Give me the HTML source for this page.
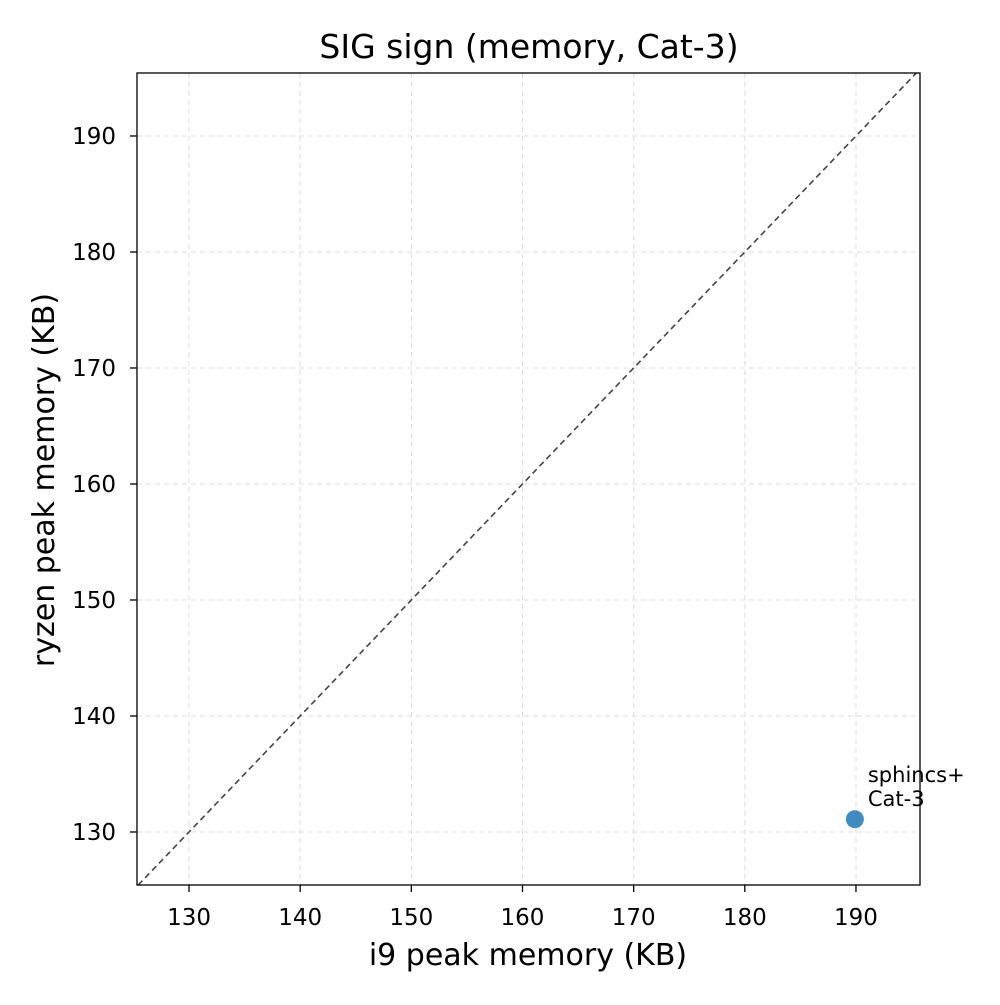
<!DOCTYPE html>
<html><head><meta charset="utf-8"><style>
body{margin:0;background:#fff;}
svg text{font-family:"DejaVu Sans","Liberation Sans",sans-serif;}
</style></head><body>
<svg id="chart" width="1000" height="1000" xmlns="http://www.w3.org/2000/svg">
<rect width="1000" height="1000" fill="#fff"/>
<g id="grid"></g>
<g id="plot"></g>
<rect x="137" y="73" width="783" height="812" fill="none" stroke="#000" stroke-width="1.3"/>
<g id="ticks"></g>
<text x="529" y="58" font-size="33" text-anchor="middle">SIG sign (memory, Cat-3)</text>
<text x="528" y="965" font-size="30" text-anchor="middle">i9 peak memory (KB)</text>
<text transform="translate(54,480) rotate(-90)" font-size="30" text-anchor="middle">ryzen peak memory (KB)</text>
</svg>
<script>
const xTicks=[130,140,150,160,170,180,190];
const yTicks=[130,140,150,160,170,180,190];
const pointsX=[189.9];
const pointsY=[131.1];
const labels=["sphincs+","Cat-3"];
const xDom=[125.32,195.76], yDom=[125.43,195.43];
const L=137,R=920,T=73,B=885;
function sx(v){return L+(v-xDom[0])/(xDom[1]-xDom[0])*(R-L);}
function sy(v){return B-(v-yDom[0])/(yDom[1]-yDom[0])*(B-T);}
const NS="http://www.w3.org/2000/svg";
function mk(tag,attrs,parent){const e=document.createElementNS(NS,tag);for(const k in attrs)e.setAttribute(k,attrs[k]);parent.appendChild(e);return e;}
const grid=document.getElementById('grid'),ticks=document.getElementById('ticks'),plot=document.getElementById('plot');
xTicks.forEach(v=>{
  const x=sx(v);
  const g=mk('line',{x1:x,x2:x,y1:T,y2:B,stroke:'#ddd','stroke-dasharray':'5,4','stroke-width':1},grid);
  
  
  const t=mk('line',{x1:x,x2:x,y1:B,y2:B+7,stroke:'#000','stroke-width':1.3},ticks);
  
  
  const l=mk('text',{x:x,y:925,'font-size':23,'text-anchor':'middle'},ticks);
  l.textContent=v;
  
  
});
yTicks.forEach(v=>{
  const y=sy(v);
  const g=mk('line',{x1:L,x2:R,y1:y,y2:y,stroke:'#ddd','stroke-dasharray':'5,4','stroke-width':1},grid);
  
  
  const t=mk('line',{x1:L-7,x2:L,y1:y,y2:y,stroke:'#000','stroke-width':1.3},ticks);
  
  
  const l=mk('text',{x:L-21,y:y+8,'font-size':23,'text-anchor':'end'},ticks);
  l.textContent=v;
  
  
});
const lo=Math.max(xDom[0],yDom[0]),hi=Math.min(xDom[1],yDom[1]);
const d=mk('line',{x1:sx(lo),y1:sy(lo),x2:sx(hi),y2:sy(hi),stroke:'#444','stroke-dasharray':'6,4','stroke-width':1.6},plot);


pointsX.forEach((v,i)=>{
  const c=mk('circle',{cx:sx(v),cy:sy(pointsY[i]),r:9,fill:'#1f77b4','fill-opacity':0.85},plot);
  
  
  const t=mk('text',{x:sx(v)+13,y:sy(pointsY[i])-37,'font-size':21},plot);
  
  
  labels.forEach((s,j)=>{const ts=mk('tspan',{x:sx(v)+13,dy:j?24:0},t);ts.textContent=s;});
});
</script>
</body></html>
